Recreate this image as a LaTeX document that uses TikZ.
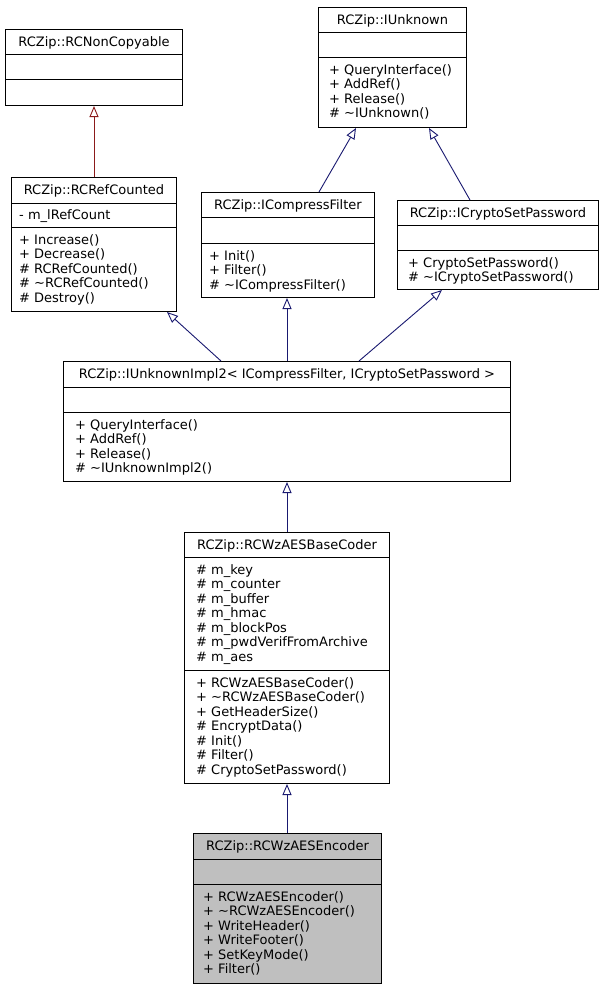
\documentclass[tikz,border=0pt]{standalone}
\usepackage{fontspec}
\setmainfont{DejaVu Sans}
\usetikzlibrary{arrows.meta}
\definecolor{edgeblue}{HTML}{191970}
\definecolor{edgered}{HTML}{8B1A1A}
\definecolor{boxgray}{HTML}{BFBFBF}

\begin{document}
\begin{tikzpicture}[x=1pt,y=-1pt,
  classbox/.style={draw=black, line width=1pt, fill=white, anchor=north west, inner sep=0pt},
  clstitle/.style={anchor=base, inner sep=0pt, font=\fontsize{13}{14.5}\selectfont},
  member/.style={anchor=base west, inner sep=0pt, align=left, font=\fontsize{13}{14.5}\selectfont},
  inherit/.style={draw=edgeblue, line width=0.9pt, -{Triangle[open, length=11pt, width=9pt, fill=white]}}]
\useasboundingbox[fill=white] (0,0) rectangle (603,989);

% class boxes
\node[classbox, minimum width=177pt, minimum height=76pt] (noncopy) at (5,29) {};
\node[classbox, minimum width=148pt, minimum height=120pt] (iunknown) at (318,7) {};
\node[classbox, minimum width=165pt, minimum height=134pt] (refcounted) at (11,177) {};
\node[classbox, minimum width=173pt, minimum height=105pt] (compress) at (201,192) {};
\node[classbox, minimum width=201pt, minimum height=89pt] (cryptopw) at (397,200) {};
\node[classbox, minimum width=447pt, minimum height=120pt] (impl) at (63,361) {};
\node[classbox, minimum width=205pt, minimum height=251pt] (basecoder) at (184,532) {};
\node[classbox, fill=boxgray, minimum width=188pt, minimum height=150pt] (encoder) at (193,833) {};

% compartment lines
\draw (noncopy.west |- 0,54) -- (noncopy.east |- 0,54);
\draw (noncopy.west |- 0,79) -- (noncopy.east |- 0,79);
\draw (iunknown.west |- 0,32) -- (iunknown.east |- 0,32);
\draw (iunknown.west |- 0,57) -- (iunknown.east |- 0,57);
\draw (refcounted.west |- 0,203) -- (refcounted.east |- 0,203);
\draw (refcounted.west |- 0,227) -- (refcounted.east |- 0,227);
\draw (compress.west |- 0,217) -- (compress.east |- 0,217);
\draw (compress.west |- 0,243) -- (compress.east |- 0,243);
\draw (cryptopw.west |- 0,225) -- (cryptopw.east |- 0,225);
\draw (cryptopw.west |- 0,250) -- (cryptopw.east |- 0,250);
\draw (impl.west |- 0,387) -- (impl.east |- 0,387);
\draw (impl.west |- 0,412) -- (impl.east |- 0,412);
\draw (basecoder.west |- 0,557) -- (basecoder.east |- 0,557);
\draw (basecoder.west |- 0,670) -- (basecoder.east |- 0,670);
\draw (encoder.west |- 0,859) -- (encoder.east |- 0,859);
\draw (encoder.west |- 0,884) -- (encoder.east |- 0,884);

% class names
\node[clstitle] (noncopy-t) at (noncopy.north |- 0,46) {RCZip::RCNonCopyable};
\node[clstitle] (iunknown-t) at (iunknown.north |- 0,24) {RCZip::IUnknown};
\node[clstitle] (refcounted-t) at (refcounted.north |- 0,194) {RCZip::RCRefCounted};
\node[clstitle] (compress-t) at (compress.north |- 0,209) {RCZip::ICompressFilter};
\node[clstitle] (cryptopw-t) at (cryptopw.north |- 0,217) {RCZip::ICryptoSetPassword};
\node[clstitle] (impl-t) at (impl.north |- 0,378) {RCZip::IUnknownImpl2< ICompressFilter, ICryptoSetPassword >};
\node[clstitle] (basecoder-t) at (basecoder.north |- 0,549) {RCZip::RCWzAESBaseCoder};
\node[clstitle] (encoder-t) at (encoder.north |- 0,850) {RCZip::RCWzAESEncoder};

% members (placed at the baseline of the last line)
\node[member] (iunknown-m) at (329,117.5) {+ QueryInterface()\\+ AddRef()\\+ Release()\\\# \textasciitilde IUnknown()};
\node[member] (refcounted-a) at (19,219) {- m\_lRefCount};
\node[member] (refcounted-m) at (19,302) {+ Increase()\\+ Decrease()\\\# RCRefCounted()\\\# \textasciitilde RCRefCounted()\\\# Destroy()};
\node[member] (compress-m) at (209,289) {+ Init()\\+ Filter()\\\# \textasciitilde ICompressFilter()};
\node[member] (cryptopw-m) at (408,281.5) {+ CryptoSetPassword()\\\# \textasciitilde ICryptoSetPassword()};
\node[member] (impl-m) at (75,472.5) {+ QueryInterface()\\+ AddRef()\\+ Release()\\\# \textasciitilde IUnknownImpl2()};
\node[member] (basecoder-a) at (196,661) {\# m\_key\\\# m\_counter\\\# m\_buffer\\\# m\_hmac\\\# m\_blockPos\\\# m\_pwdVerifFromArchive\\\# m\_aes};
\node[member] (basecoder-m) at (196,774) {+ RCWzAESBaseCoder()\\+ \textasciitilde RCWzAESBaseCoder()\\+ GetHeaderSize()\\\# EncryptData()\\\# Init()\\\# Filter()\\\# CryptoSetPassword()};
\node[member] (encoder-m) at (203,973.5) {+ RCWzAESEncoder()\\+ \textasciitilde RCWzAESEncoder()\\+ WriteHeader()\\+ WriteFooter()\\+ SetKeyMode()\\+ Filter()};

% inheritance
\draw[inherit, draw=edgered] (refcounted.north) -- (noncopy.south);
\draw[inherit] (319,0 |- compress.north) -- (356,0 |- iunknown.south);
\draw[inherit] (470,0 |- cryptopw.north) -- (429,0 |- iunknown.south);
\draw[inherit] (221,0 |- impl.north) -- (167,0 |- refcounted.south);
\draw[inherit] (287,0 |- impl.north) -- (287,0 |- compress.south);
\draw[inherit] (359,0 |- impl.north) -- (442,0 |- cryptopw.south);
\draw[inherit] (basecoder.north -| 287,0) -- (impl.south -| 287,0);
\draw[inherit] (encoder.north -| 287,0) -- (basecoder.south -| 287,0);
\end{tikzpicture}
\end{document}
